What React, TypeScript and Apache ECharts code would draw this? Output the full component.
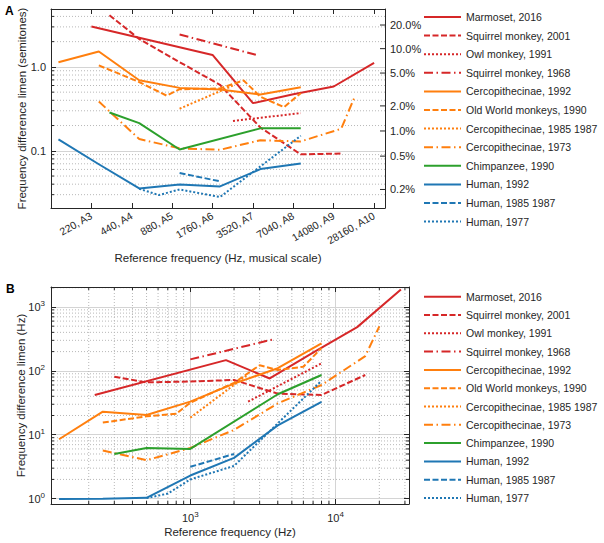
import React, { useEffect, useRef } from 'react';
import * as echarts from 'echarts';

// ---------- data: reference frequency (Hz) and difference limen (Hz) ----------
const marmosetFreq = [220, 1760, 3520, 7040, 14080, 28160];
const marmosetDL = [42, 147, 76, 195, 483, 1875];
const squirrel2001Freq = [300, 500, 1000, 2000, 4000, 8000, 16000];
const squirrel2001DL = [81, 66, 68, 72, 44, 42, 86];
const owlFreq = [2500, 8000];
const owlDL = [33, 131];
const squirrel1968Freq = [1000, 3700];
const squirrel1968DL = [151, 310];
const cerc1992Freq = [125, 250, 500, 1000, 2000, 4000, 8000];
const cerc1992DL = [8.5, 23, 20.4, 33, 63, 110, 268];
const oldWorldFreq = [250, 500, 800, 1000, 2000, 3000, 4000, 6000, 8000];
const oldWorldDL = [15.5, 19.4, 21.3, 31.8, 65, 122, 103, 116, 228];
const cerc1985Freq = [1000, 2500];
const cerc1985DL = [18.5, 88];
const cerc1973Freq = [250, 500, 1000, 2000, 4000, 8000, 16000, 20000];
const cerc1973DL = [5.65, 4.0, 6.2, 11.9, 31, 60, 170, 496];
const chimpFreq = [300, 500, 1000, 4000, 8000];
const chimpDL = [5.0, 6.2, 6.0, 43, 86];
const human1992Freq = [125, 250, 500, 1000, 2000, 4000, 8000];
const human1992DL = [0.99, 1.0, 1.03, 2.3, 4.35, 14, 32.7];
const human1985Freq = [1000, 2000];
const human1985DL = [3.15, 5.0];
const human1977Freq = [500, 700, 1000, 2000, 8000];
const human1977DL = [1.02, 1.2, 2.0, 3.25, 70];

const seriesNames = [
  'Marmoset, 2016',
  'Squirrel monkey, 2001',
  'Owl monkey, 1991',
  'Squirrel monkey, 1968',
  'Cercopithecinae, 1992',
  'Old World monkeys, 1990',
  'Cercopithecinae, 1985 1987',
  'Cercopithecinae, 1973',
  'Chimpanzee, 1990',
  'Human, 1992',
  'Human, 1985 1987',
  'Human, 1977',
];
const seriesFreqs = [
  marmosetFreq, squirrel2001Freq, owlFreq, squirrel1968Freq,
  cerc1992Freq, oldWorldFreq, cerc1985Freq, cerc1973Freq,
  chimpFreq, human1992Freq, human1985Freq, human1977Freq,
];
const seriesDLs = [
  marmosetDL, squirrel2001DL, owlDL, squirrel1968DL,
  cerc1992DL, oldWorldDL, cerc1985DL, cerc1973DL,
  chimpDL, human1992DL, human1985DL, human1977DL,
];

// musical-scale tick labels (octaves above 110 Hz)
const musicalTickLabels = ['', '220, A3', '440, A4', '880, A5', '1760, A6', '3520, A7', '7040, A8', '14080, A9', '28160, A10'];
// right-axis percent ticks
const percentTicks = [0.2, 0.5, 1, 2, 5, 10, 20];
// minor grid values
const aMinorY = [0.03, 0.04, 0.05, 0.06, 0.07, 0.08, 0.09, 0.2, 0.3, 0.4, 0.5, 0.6, 0.7, 0.8, 0.9, 2, 3, 4];
const bMinorX = [200, 300, 400, 500, 600, 700, 800, 900, 2000, 3000, 4000, 5000, 6000, 7000, 8000, 9000, 20000, 30000];
const bMinorY = [2, 3, 4, 5, 6, 7, 8, 9, 20, 30, 40, 50, 60, 70, 80, 90, 200, 300, 400, 500, 600, 700, 800, 900, 2000];

// ---------- styles ----------
const RED = '#d62728';
const ORANGE = '#ff7f0e';
const GREEN = '#2ca02c';
const BLUE = '#1f77b4';
const DASH = [6, 2.5];
const DOT = [2, 2];
const DASHDOT = [9, 3.5, 1.5, 3.5];
const seriesStyles: { c: string; t: any }[] = [
  { c: RED, t: 'solid' }, { c: RED, t: DASH }, { c: RED, t: DOT }, { c: RED, t: DASHDOT },
  { c: ORANGE, t: 'solid' }, { c: ORANGE, t: DASH }, { c: ORANGE, t: DOT }, { c: ORANGE, t: DASHDOT },
  { c: GREEN, t: 'solid' }, { c: BLUE, t: 'solid' }, { c: BLUE, t: DASH }, { c: BLUE, t: DOT },
];

const FONT = '"Liberation Sans", Arial, Helvetica, sans-serif';
const TXT = '#262626';
const AXC = '#262626';

const A_XMAX = 8.27;
const A_YMIN = 0.0208;
const A_YMAX = 4.9;
const B_XMIN = 110;
const B_XMAX = 32000;
const B_YMIN = 0.825;
const B_YMAX = 2050;

const isDecade = (v: number) => {
  const l = Math.log10(v);
  return Math.abs(l - Math.round(l)) < 1e-6;
};

const supRich = {
  b: { fontSize: 11, fontFamily: FONT, color: TXT },
  s: { fontSize: 8, fontFamily: FONT, color: TXT, padding: [0, 0, 7, 0] },
};
const powLabel = (v: number) => (isDecade(v) ? `{b|10}{s|${Math.round(Math.log10(v))}}` : '');

export default function App() {
  const ref = useRef<HTMLDivElement>(null);

  useEffect(() => {
    if (!ref.current) return;
    const chart = echarts.init(ref.current, undefined, { renderer: 'svg' });

    const mk = (name: string, k: number, xi: number, yi: number, data: number[][]) => ({
      name,
      type: 'line',
      xAxisIndex: xi,
      yAxisIndex: yi,
      symbol: 'none',
      silent: true,
      lineStyle: { color: seriesStyles[k].c, width: 2, type: seriesStyles[k].t, cap: 'butt' },
      itemStyle: { color: seriesStyles[k].c },
      emphasis: { disabled: true },
      data,
    });

    const seriesA = seriesNames.map((name, k) =>
      mk(name, k, 0, 0, seriesFreqs[k].map((f, i) => [Math.log2(f / 110), 12 * Math.log2(1 + seriesDLs[k][i] / f)]))
    );
    const seriesB = seriesNames.map((name, k) =>
      mk(name, k, 2, 2, seriesFreqs[k].map((f, i) => [f, seriesDLs[k][i]]))
    );

    const legendBase = {
      orient: 'vertical',
      left: 423,
      padding: 0,
      itemWidth: 37,
      itemHeight: 14,
      selectedMode: false,
      data: seriesNames,
      itemStyle: { opacity: 0 },
      textStyle: { color: TXT, fontSize: 10.5, fontFamily: FONT, lineHeight: 14 },
    };

    const axLine = { show: true, onZero: false, lineStyle: { color: AXC, width: 1 } };
    const tickIn = { show: true, inside: true, length: 5, lineStyle: { color: AXC, width: 1 } };
    const major = { show: true, lineStyle: { color: '#d4d4d4', width: 1, type: 'solid' } };
    const nameStyle = { color: TXT, fontSize: 11.5, fontFamily: FONT };

    const option: any = {
      animation: false,
      backgroundColor: '#ffffff',
      title: [
        { text: 'A', left: 5, top: 5, padding: 0, textStyle: { fontSize: 12, fontWeight: 'bold', color: '#000', fontFamily: FONT } },
        { text: 'B', left: 6, top: 283, padding: 0, textStyle: { fontSize: 12, fontWeight: 'bold', color: '#000', fontFamily: FONT } },
      ],
      legend: [
        { ...legendBase, top: 10, itemGap: 4.6 },
        { ...legendBase, top: 289.7, itemGap: 4.3 },
      ],
      grid: [
        { left: 51, top: 9, width: 334, height: 199, outerBoundsMode: 'none' },
        { left: 51, top: 287, width: 358, height: 217, outerBoundsMode: 'none' },
      ],
      xAxis: [
        {
          type: 'value', gridIndex: 0, position: 'bottom', min: 0, max: A_XMAX, interval: 1,
          axisLine: axLine, axisTick: tickIn, splitLine: { show: false },
          axisLabel: {
            rotate: 30, margin: 7, color: TXT, fontSize: 10.5, fontFamily: FONT,
            formatter: (v: number) => (Math.abs(v - Math.round(v)) < 1e-6 ? musicalTickLabels[Math.round(v)] || '' : ''),
          },
          name: 'Reference frequency (Hz, musical scale)', nameLocation: 'middle', nameGap: 44, nameTextStyle: nameStyle,
        },
        {
          type: 'value', gridIndex: 0, position: 'top', min: 0, max: A_XMAX, interval: 1,
          axisLine: axLine, axisTick: tickIn, axisLabel: { show: false }, splitLine: { show: false },
        },
        {
          type: 'log', logBase: 10, gridIndex: 1, position: 'bottom', min: B_XMIN, max: B_XMAX,
          axisLine: axLine, axisTick: tickIn, splitLine: major,
          axisLabel: { margin: 6, formatter: powLabel, rich: supRich },
          name: 'Reference frequency (Hz)', nameLocation: 'middle', nameGap: 22, nameTextStyle: nameStyle,
        },
        {
          type: 'log', logBase: 10, gridIndex: 1, position: 'top', min: B_XMIN, max: B_XMAX,
          axisLine: axLine, axisTick: tickIn, axisLabel: { show: false }, splitLine: { show: false },
        },
      ],
      yAxis: [
        {
          type: 'log', logBase: 10, gridIndex: 0, position: 'left', min: A_YMIN, max: A_YMAX,
          axisLine: axLine, axisTick: tickIn, splitLine: major,
          axisLabel: {
            margin: 5, color: TXT, fontSize: 11, fontFamily: FONT,
            formatter: (v: number) => (isDecade(v) ? (v >= 1 ? v.toFixed(1) : String(Number(v.toPrecision(1)))) : ''),
          },
          name: 'Frequency difference limen (semitones)', nameLocation: 'middle', nameGap: 23,
          nameMoveOverlap: false, nameTextStyle: nameStyle,
        },
        {
          type: 'log', logBase: 10, gridIndex: 0, position: 'right', min: A_YMIN, max: A_YMAX,
          axisLine: axLine, axisTick: { show: false }, axisLabel: { show: false }, splitLine: { show: false },
        },
        {
          type: 'log', logBase: 10, gridIndex: 1, position: 'left', min: B_YMIN, max: B_YMAX,
          axisLine: axLine, axisTick: tickIn, splitLine: major,
          axisLabel: { margin: 6, formatter: powLabel, rich: supRich },
          name: 'Frequency difference limen (Hz)', nameLocation: 'middle', nameGap: 24,
          nameMoveOverlap: false, nameTextStyle: nameStyle,
        },
        {
          type: 'log', logBase: 10, gridIndex: 1, position: 'right', min: B_YMIN, max: B_YMAX,
          axisLine: axLine, axisTick: tickIn, axisLabel: { show: false }, splitLine: { show: false },
        },
      ],
      series: [...seriesA, ...seriesB],
    };

    chart.setOption(option);

    // decorations placed through the library's own axis scales
    const px = (i: number, v: number) => chart.convertToPixel({ xAxisIndex: i } as any, v) as unknown as number;
    const py = (i: number, v: number) => chart.convertToPixel({ yAxisIndex: i } as any, v) as unknown as number;
    const g: any[] = [];
    const dotted = (x1: number, y1: number, x2: number, y2: number) => ({
      type: 'line', silent: true, z: 0,
      shape: { x1, y1, x2, y2 },
      style: { stroke: '#b8b8b8', lineWidth: 1, lineDash: [1, 2] },
    });
    const tick = (x1: number, y1: number, x2: number, y2: number) => ({
      type: 'line', silent: true, z: 1,
      shape: { x1, y1, x2, y2 },
      style: { stroke: AXC, lineWidth: 1 },
    });

    // Panel A
    const aL = px(0, 0);
    const aR = px(0, A_XMAX);
    aMinorY.forEach((v) => {
      const y = py(0, v);
      g.push(dotted(aL, y, aR, y));
      g.push(tick(aL, y, aL + 3, y));
    });
    percentTicks.forEach((p) => {
      const s = 12 * Math.log2(1 + p / 100);
      const y = py(0, s);
      g.push(tick(aR - 5, y, aR, y));
      g.push({
        type: 'text', silent: true, z: 1, x: aR + 5, y,
        style: { text: p.toFixed(1) + '%', fill: TXT, fontSize: 11, fontFamily: FONT, align: 'left', verticalAlign: 'middle' },
      });
    });

    // Panel B
    const bL = px(2, B_XMIN);
    const bR = px(2, B_XMAX);
    const bT = py(2, B_YMAX);
    const bB = py(2, B_YMIN);
    bMinorX.forEach((v) => {
      const x = px(2, v);
      g.push(dotted(x, bT, x, bB));
      g.push(tick(x, bB, x, bB - 3));
      g.push(tick(x, bT, x, bT + 3));
    });
    bMinorY.forEach((v) => {
      const y = py(2, v);
      g.push(dotted(bL, y, bR, y));
      g.push(tick(bL, y, bL + 3, y));
      g.push(tick(bR, y, bR - 3, y));
    });

    chart.setOption({ graphic: { elements: g } });

    return () => chart.dispose();
  }, []);

  return (
    <div
      ref={ref}
      style={{ position: 'fixed', left: 0, top: 0, width: 604, height: 543, background: '#fff' }}
    />
  );
}
